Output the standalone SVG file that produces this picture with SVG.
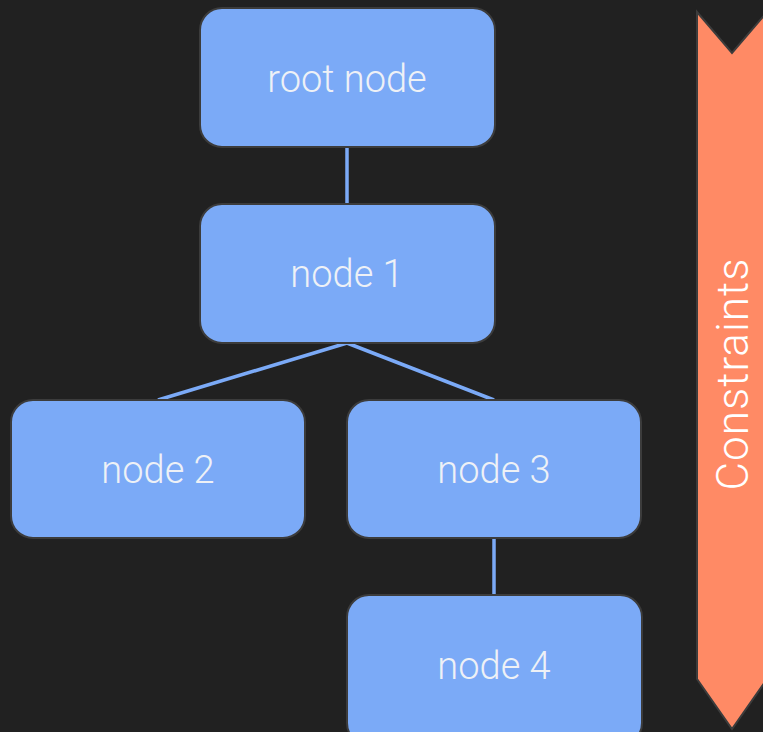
<svg xmlns="http://www.w3.org/2000/svg" width="763" height="732" viewBox="0 0 763 732">
  <style>
    .node rect { fill: #7baaf7; stroke: #3c3c3c; stroke-width: 2; }
    .node text { fill: #eef1f6; font-family: Roboto, "Open Sans", sans-serif; font-weight: 300; font-size: 38px; text-anchor: middle; dominant-baseline: central; }
    .edges line { stroke: #7baaf7; stroke-width: 3.5; }
    .band { fill: #ff8a65; stroke: #3c3c3c; stroke-width: 2; }
    .band-label { fill: #ffffff; font-family: Roboto, "Open Sans", sans-serif; font-weight: 300; font-size: 44px; letter-spacing: 1px; text-anchor: middle; dominant-baseline: central; }
  </style>
  <rect width="763" height="732" fill="#212121"/>

  <!-- constraints band -->
  <g id="constraints">
    <polygon class="band" points="697,12 732,53 767,12 767,679 732,729 697,679"/>
    <text class="band-label" transform="translate(733,374) rotate(-90)">Constraints</text>
  </g>

  <g class="edges">
    <line x1="347" y1="147" x2="347" y2="204"/>
    <line x1="347" y1="343" x2="158" y2="400"/>
    <line x1="347" y1="343" x2="494" y2="400"/>
    <line x1="494" y1="538" x2="494" y2="595"/>
  </g>

  <g id="root" class="node">
    <rect x="200" y="8" width="295" height="139" rx="22"/>
    <text x="347" y="79">root node</text>
  </g>
  <g id="node1" class="node">
    <rect x="200" y="204" width="295" height="139" rx="22"/>
    <text x="347" y="274">node 1</text>
  </g>
  <g id="node2" class="node">
    <rect x="11" y="400" width="294" height="138" rx="22"/>
    <text x="158" y="470">node 2</text>
  </g>
  <g id="node3" class="node">
    <rect x="347" y="400" width="294" height="138" rx="22"/>
    <text x="494" y="470">node 3</text>
  </g>
  <g id="node4" class="node">
    <rect x="347" y="595" width="295" height="150" rx="22"/>
    <text x="494" y="666">node 4</text>
  </g>
</svg>
